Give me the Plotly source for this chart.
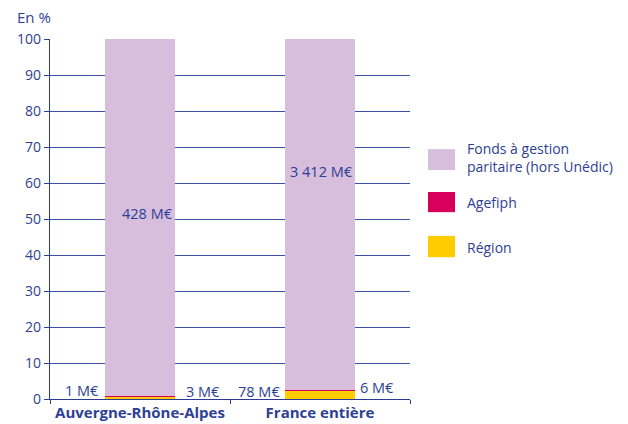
import plotly.graph_objects as go

categories = ["Auvergne-Rhône-Alpes", "France entière"]
series_names = ["Région", "Agefiph", "Fonds à gestion<br>paritaire (hors Unédic)"]
amounts_meur = {
    "Région": [3, 78],
    "Agefiph": [1, 6],
    "Fonds": [428, 3412],
}
colors = ["#ffcc00", "#d7005a", "#d7bedc"]
y_ticks = [0, 10, 20, 30, 40, 50, 60, 70, 80, 90, 100]

keys = ["Région", "Agefiph", "Fonds"]
totals = [sum(amounts_meur[k][i] for k in keys) for i in range(len(categories))]
pct = {k: [amounts_meur[k][i] / totals[i] * 100 for i in range(len(categories))] for k in keys}

TXT = "#2e3f95"
FONT = "Open Sans"

fig = go.Figure()
for k, name, c in zip(keys, series_names, colors):
    fig.add_trace(go.Bar(x=categories, y=pct[k], name=name, marker=dict(color=c, line=dict(width=0)),
                         width=0.39, hoverinfo="skip"))

def fmt(v):
    s = f"{v:,}".replace(",", " ")
    return s + " M€"

ann = []
ann.append(dict(x=categories[0], y=51.4, text=fmt(amounts_meur["Fonds"][0]), xshift=7, showarrow=False))
ann.append(dict(x=categories[1], y=63.1, text=fmt(amounts_meur["Fonds"][1]), xshift=1, showarrow=False))
ann.append(dict(x=categories[0], y=2.5, text=fmt(amounts_meur["Agefiph"][0]), xanchor="right", xshift=-39, showarrow=False))
ann.append(dict(x=categories[0], y=2.0, text=fmt(amounts_meur["Région"][0]), xanchor="left", xshift=44, showarrow=False))
ann.append(dict(x=categories[1], y=2.0, text=fmt(amounts_meur["Région"][1]), xanchor="right", xshift=-38, showarrow=False))
ann.append(dict(x=categories[1], y=3.3, text=fmt(amounts_meur["Agefiph"][1]), xanchor="left", xshift=38, showarrow=False))
for a in ann:
    a["font"] = dict(family=FONT, size=14.5, color=TXT)

shapes = []
leg_items = [
    (series_names[2], colors[2], 0.636, 0.694, 0.672),
    (series_names[1], colors[1], 0.519, 0.575, 0.547),
    (series_names[0], colors[0], 0.394, 0.453, 0.422),
]
for name, c, y0, y1, yt in leg_items:
    shapes.append(dict(type="rect", xref="paper", yref="paper", x0=1.05, x1=1.125, y0=y0, y1=y1,
                       fillcolor=c, line=dict(width=0)))
    ann.append(dict(xref="paper", yref="paper", x=1.153, y=yt, xanchor="left", yanchor="middle",
                    text=name, showarrow=False, align="left",
                    font=dict(family=FONT, size=14, color=TXT)))

fig.update_layout(
    barmode="stack",
    width=620, height=416,
    margin=dict(l=42, r=218, t=31, b=25),
    paper_bgcolor="white", plot_bgcolor="white",
    showlegend=False,
    title=dict(text="En %", xref="container", yref="container", x=9 / 620, y=1 - 4 / 416,
               xanchor="left", yanchor="top", font=dict(family=FONT, size=15, color=TXT)),
    annotations=ann,
    shapes=shapes,
    font=dict(family=FONT, size=14, color=TXT),
    xaxis=dict(type="category", range=[-0.5, 1.5], showgrid=False, showline=True, linecolor="#2b3b94",
               linewidth=1.2, ticks="outside", tickson="boundaries", ticklen=4, tickcolor="#2b3b94",
               automargin=False,
               tickfont=dict(family=FONT, size=15, color=TXT, weight="bold")),
    yaxis=dict(range=[0, 100], tickvals=y_ticks, showgrid=True, gridcolor="#3d4fa3", gridwidth=1,
               showline=True, linecolor="#2b3b94", linewidth=1.2, ticks="outside", ticklen=5,
               automargin=False,
               tickcolor="#2b3b94", tickfont=dict(family=FONT, size=14, color=TXT), zeroline=False),
)

fig.write_html("out.html")
